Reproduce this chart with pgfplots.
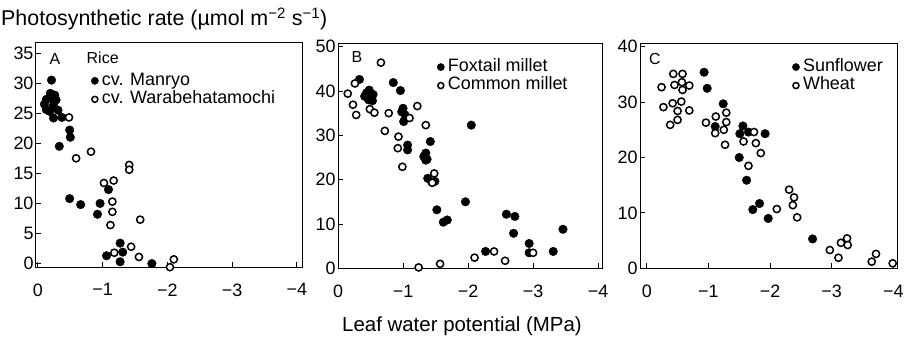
\documentclass[border=0pt]{standalone}
\usepackage{fontspec}
\setmainfont{Liberation Sans}
\usepackage{pgfplots}
\pgfplotsset{compat=1.18}
\tikzset{lett/.style={font=\fontsize{16}{18}\selectfont}}
\pgfplotsset{
 panel/.style={
  scale only axis, anchor=south west,
  font=\fontsize{18}{20}\selectfont,
  tick label style={font=\fontsize{18}{20}\selectfont},
  x dir=reverse,
  xtick={0,-1,-2,-3,-4},
  xticklabels={0,−1,−2,−3,−4},
  xtick pos=left, ytick pos=left,
  tick align=inside, major tick length=5bp,
  every tick/.style={line width=0.9pt, black},
  axis line style={line width=1pt},
  yticklabel style={/pgf/number format/assume math mode=true, xshift=1bp},
  xticklabel style={yshift=-13bp},
  clip=false,
  legend style={draw=none, fill=none, anchor=north west, inner sep=0pt,
    nodes={inner sep=0pt, text height=13bp, text depth=4.5bp}, column sep=3.5bp, row sep=1bp,
    font=\fontsize{18}{20}\selectfont},
  legend cell align=left,
  legend image code/.code={\draw[mark repeat=2,mark phase=2,##1] plot coordinates {(0bp,0bp)(3.8bp,0bp)(7.6bp,0bp)};},
  legend image post style={/tikz/every mark/.append style={scale=0.84}},
 },
 fil/.style={only marks, mark=*, mark size=4.3bp, black},
 opn/.style={only marks, mark=*, mark size=3.6bp, black, mark options={fill=white, draw=black, line width=1.5pt}},
}
\begin{document}
\begin{tikzpicture}
\path[use as bounding box] (0,0) rectangle (907bp,343bp);
\node[anchor=base west, font=\fontsize{21.5}{24}\selectfont, inner sep=0pt] at (1bp,317bp) {Photosynthetic rate (µmol m\textsuperscript{−2} s\textsuperscript{−1})};
\node[anchor=base, font=\fontsize{20.5}{23}\selectfont, inner sep=0pt] at (462bp,12bp) {Leaf water potential (MPa)};
% Panel A
\begin{axis}[panel, at={(36bp,76bp)}, width=266bp, height=224bp,
  xmin=-4.08, xmax=0.03, ymin=-0.57, ymax=36.67,
  ytick={0,5,10,15,20,25,30,35},
  legend style={at={(rel axis cs:0.207,0.871)}}]
\addplot[fil] coordinates {
(-0.21,30.5) (-0.19,28.3) (-0.26,28.0) (-0.13,27.3) (-0.28,27.2) (-0.13,25.6)
(-0.24,26.3) (-0.31,25.5) (-0.24,24.2) (-0.37,24.3) (-0.10,26.5) (-0.18,25.3)
(-0.22,27.5) (-0.33,19.5) (-0.49,22.2) (-0.50,21.0) (-0.49,10.8) (-0.66,9.8)
(-0.96,10.0) (-0.92,8.2) (-1.09,12.3) (-1.06,1.3) (-1.27,3.4) (-1.31,1.9)
(-1.27,0.3) (-1.76,0.0)};
\addlegendentry{cv. Manryo}
\addplot[opn] coordinates {
(-0.48,24.3) (-0.59,17.5) (-0.82,18.6) (-1.41,16.4) (-1.41,15.6) (-1.02,13.4)
(-1.17,13.8) (-1.15,10.3) (-1.15,8.6) (-1.12,6.4) (-1.58,7.3) (-1.18,1.8)
(-1.44,2.8) (-1.56,1.1) (-2.04,-0.6) (-2.10,0.7)};
\addlegendentry{cv. Warabehatamochi}
\node[lett] at (rel axis cs:0.071,0.93) {A};
\node[anchor=west, inner sep=0pt, font=\fontsize{16}{18}\selectfont] at (rel axis cs:0.19,0.935) {Rice};
\end{axis}
% Panel B
\begin{axis}[panel, at={(338bp,74.7bp)}, width=264bp, height=224.3bp,
  xmin=-4.06, xmax=0, ymin=0, ymax=50.6,
  ytick={0,10,20,30,40,50},
  legend style={at={(rel axis cs:0.375,0.937)}}]
\addplot[fil] coordinates {
(-0.33,42.6) (-0.44,39.6) (-0.54,39.2) (-0.47,38.0) (-0.53,37.8) (-0.41,38.8)
(-0.48,40.2) (-0.85,41.9) (-0.96,40.1) (-1.00,36.1) (-0.98,35.3) (-1.03,34.6)
(-1.01,33.1) (-1.07,27.8) (-1.07,26.7) (-1.32,25.2) (-1.35,24.4) (-1.37,24.6)
(-1.35,26.0) (-1.42,28.6) (-1.38,20.3) (-1.44,19.5) (-1.49,19.6) (-1.52,13.2)
(-1.62,10.4) (-1.68,10.9) (-2.05,32.3) (-1.96,15.0) (-2.27,3.8) (-2.59,12.2)
(-2.72,11.7) (-2.70,7.9) (-2.94,5.6) (-2.94,3.5) (-3.31,3.8) (-3.46,8.8)};
\addlegendentry{Foxtail millet}
\addplot[opn] coordinates {
(-0.66,46.4) (-0.15,39.4) (-0.26,41.7) (-0.23,36.9) (-0.28,34.6) (-0.49,35.9)
(-0.56,35.1) (-0.72,31.0) (-0.78,35.0) (-0.93,29.7) (-0.92,27.1) (-0.99,22.9)
(-1.10,33.9) (-1.22,36.6) (-1.35,32.3) (-1.48,21.4) (-1.45,19.3) (-1.24,0.2)
(-1.57,1.0) (-2.10,2.4) (-2.40,3.8) (-2.57,1.7) (-3.00,3.5)};
\addlegendentry{Common millet}
\node[lett] at (rel axis cs:0.072,0.942) {B};
\end{axis}
% Panel C
\begin{axis}[panel, at={(640bp,74.7bp)}, width=257bp, height=224.3bp,
  xmin=-4.06, xmax=0.11, ymin=0, ymax=40.5,
  ytick={0,10,20,30,40},
  legend style={at={(rel axis cs:0.592,0.937)}}]
\addplot[fil] coordinates {
(-0.93,35.4) (-0.98,32.5) (-1.24,29.7) (-1.11,25.6) (-1.56,25.7) (-1.51,24.3)
(-1.65,24.6) (-1.92,24.3) (-1.50,20.0) (-1.62,15.9) (-1.83,11.7) (-1.72,10.6)
(-1.97,9.0) (-2.69,5.3)};
\addlegendentry{Sunflower}
\addplot[opn] coordinates {
(-0.24,32.7) (-0.27,29.1) (-0.38,25.9) (-0.43,35.1) (-0.58,35.1) (-0.45,33.1)
(-0.57,33.6) (-0.69,33.0) (-0.58,32.2) (-0.42,29.8) (-0.56,30.1) (-0.50,28.4)
(-0.69,28.5) (-0.50,26.8) (-0.96,26.3) (-1.12,27.4) (-1.29,28.1) (-1.11,24.4)
(-1.25,25.0) (-1.29,26.4) (-1.27,22.3) (-1.57,22.9) (-1.74,24.6) (-1.77,22.6)
(-1.85,20.8) (-1.65,18.5) (-2.11,10.7) (-2.31,14.2) (-2.39,12.8) (-2.37,11.4)
(-2.44,9.2) (-2.97,3.3) (-3.11,1.9) (-3.15,4.6) (-3.25,5.4) (-3.26,4.2)
(-3.65,1.2) (-3.72,2.6) (-3.99,0.9)};
\addlegendentry{Wheat}
\node[lett] at (rel axis cs:0.058,0.933) {C};
\end{axis}
\end{tikzpicture}
\end{document}
